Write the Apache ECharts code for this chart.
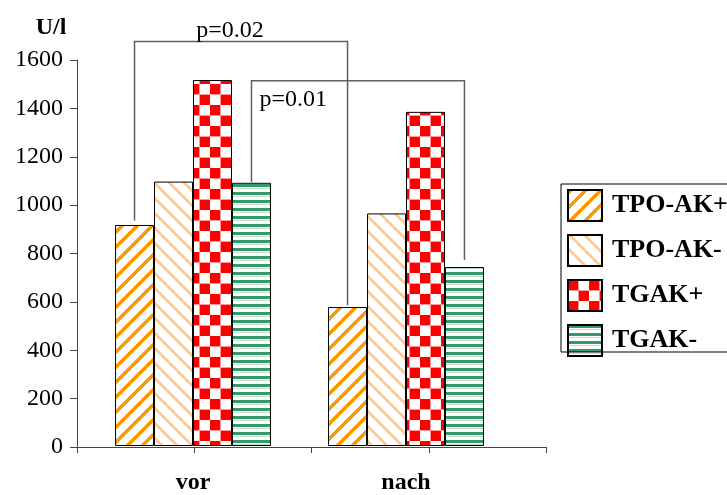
<!DOCTYPE html>
<html><head><meta charset="utf-8">
<script src="https://cdn.jsdelivr.net/npm/echarts@6/dist/echarts.min.js"></script>
<style>html,body{margin:0;padding:0;background:#fff}#c{width:727px;height:495px}</style>
</head><body><div id="c"></div>
<script>
// ---- data ----
var categories = ['vor', 'nach'];
var seriesNames = ['TPO-AK+', 'TPO-AK-', 'TGAK+', 'TGAK-'];
var tpoPos = [916, 576];
var tpoNeg = [1096, 964];
var tgPos = [1517, 1385];
var tgNeg = [1091, 742];
var yTicks = [0, 200, 400, 600, 800, 1000, 1200, 1400, 1600];
// significance brackets: [fromCategory, fromSeries, fromValue, toCategory, toSeries, toValue, topValue]
var bracketText = ['p=0.02', 'p=0.01'];
var bracketFromCat = [0, 0];
var bracketFromSeries = [0, 3];
var bracketFromVal = [935, 1094];
var bracketToCat = [1, 1];
var bracketToSeries = [0, 3];
var bracketToVal = [583, 771];
var bracketTop = [1677, 1514];

var FONT = '"Liberation Serif", "Times New Roman", serif';
var GAP = 0.268;

function makePattern(size, fn) {
  var c = document.createElement('canvas');
  c.width = size[0]; c.height = size[1];
  var ctx = c.getContext('2d');
  for (var y = 0; y < size[1]; y++) {
    for (var x = 0; x < size[0]; x++) {
      ctx.fillStyle = fn(x, y);
      ctx.fillRect(x, y, 1, 1);
    }
  }
  return { image: c, repeat: 'repeat' };
}
var patOrange = makePattern([15, 15], function (x, y) {
  return ((x + y) % 15) < 5 ? '#FF9900' : '#FFFFFF';
});
var patPeach = makePattern([15, 15], function (x, y) {
  return (((x - y) % 15 + 15) % 15) < 4 ? '#FFCC99' : '#FFFFFF';
});
var patCheck = makePattern([21, 21], function (x, y) {
  var a = x < 10 ? 0 : 1, b = y < 10 ? 0 : 1;
  if (x === 10 || y === 10) return '#FF9999';
  return ((a + b) % 2 === 0) ? '#FF0000' : '#FFFFFF';
});
var patGreen = makePattern([4, 8], function (x, y) {
  if (y < 3) return '#339966';
  if (y === 4) return '#BFE0CC';
  return '#FFFFFF';
});
var patterns = [patOrange, patPeach, patCheck, patGreen];
var seriesData = [tpoPos, tpoNeg, tgPos, tgNeg];

var chart = echarts.init(document.getElementById('c'));

var barSeries = seriesNames.map(function (n, i) {
  return {
    name: n, type: 'bar', xAxisIndex: 0, yAxisIndex: 0,
    data: seriesData[i],
    barGap: '0%', barCategoryGap: (GAP * 100) + '%',
    itemStyle: { color: patterns[i], borderColor: '#000', borderWidth: 1 }
  };
});

var bracketData = bracketText.map(function (t, i) {
  return [bracketFromCat[i], bracketFromSeries[i], bracketFromVal[i],
          bracketToCat[i], bracketToSeries[i], bracketToVal[i], bracketTop[i], i];
});

function renderBracket(params, api) {
  var W = api.size([1, 0])[0];
  var group = W * (1 - GAP);
  var bw = group / 4;
  function barX(cat, s) { return api.coord([cat, 0])[0] - group / 2 + (s + 0.5) * bw; }
  var x1 = barX(api.value(0), api.value(1));
  var y1 = api.coord([0, api.value(2)])[1];
  var x2 = barX(api.value(3), api.value(4));
  var y2 = api.coord([0, api.value(5)])[1];
  var yt = api.coord([0, api.value(6)])[1];
  var idx = api.value(7);
  var txt;
  if (idx === 0) {
    txt = { type: 'text', style: { x: (x1 + x2) / 2 - 11, y: yt + 1, text: bracketText[idx],
      font: '24px ' + FONT, fill: '#000', align: 'center', verticalAlign: 'bottom' } };
  } else {
    txt = { type: 'text', style: { x: x1 + 8, y: yt + 7, text: bracketText[idx],
      font: '24px ' + FONT, fill: '#000', align: 'left', verticalAlign: 'top' } };
  }
  return {
    type: 'group',
    children: [
      { type: 'polyline', shape: { points: [[x1, y1], [x1, yt], [x2, yt], [x2, y2]] },
        style: { stroke: '#606060', lineWidth: 1.5, fill: null } },
      txt
    ]
  };
}

chart.setOption({
  animation: false,
  backgroundColor: '#fff',
  grid: [
    { left: 86.5, width: 426, top: 60, height: 387 },
    { left: 77, width: 469, top: 60, height: 387 }
  ],
  xAxis: [
    { type: 'category', gridIndex: 0, data: categories,
      axisLine: { show: false }, axisTick: { show: false },
      axisLabel: { margin: 25, fontFamily: FONT, fontSize: 24, fontWeight: 'bold', color: '#000' } },
    { type: 'category', gridIndex: 1, data: ['a', 'b', 'c', 'd'], boundaryGap: true,
      axisLine: { show: true, onZero: false, lineStyle: { color: '#444', width: 1 } },
      axisTick: { show: true, interval: 0, length: 6, lineStyle: { color: '#444', width: 1 } },
      axisLabel: { show: true, interval: 0, color: 'rgba(0,0,0,0)' } }
  ],
  yAxis: [
    { type: 'value', gridIndex: 0, min: 0, max: 1600, interval: 200, show: false },
    { type: 'value', gridIndex: 1, min: yTicks[0], max: yTicks[yTicks.length - 1], interval: 200,
      axisLine: { show: true, lineStyle: { color: '#444', width: 1 } },
      axisTick: { show: true, length: 7, lineStyle: { color: '#444' } },
      splitLine: { show: false },
      axisLabel: { margin: 14, fontFamily: FONT, fontSize: 24, color: '#000',
        formatter: function (v) { return String(v); } },
      name: 'U/l', nameLocation: 'end', nameGap: 20,
      nameTextStyle: { fontFamily: FONT, fontSize: 24, fontWeight: 'bold', color: '#000',
        align: 'center', padding: [0, 52, 0, 0] } }
  ],
  legend: {
    orient: 'vertical', left: 567, top: 189, padding: 0,
    itemWidth: 34, itemHeight: 31, itemGap: 12,
    icon: 'rect',
    data: seriesNames,
    textStyle: { fontFamily: FONT, fontSize: 26, fontWeight: 'bold', color: '#000', padding: [0, 0, 0, 5] }
  },
  graphic: [
    { type: 'rect', shape: { x: 561, y: 184, width: 200, height: 168 },
      style: { fill: null, stroke: '#000', lineWidth: 1 }, z: 100 }
  ],
  series: barSeries.concat([{
    type: 'custom', xAxisIndex: 0, yAxisIndex: 0, clip: false, silent: true,
    renderItem: renderBracket, data: bracketData, encode: { x: 0, y: 2 }, z: 5
  }])
});
</script></body></html>
